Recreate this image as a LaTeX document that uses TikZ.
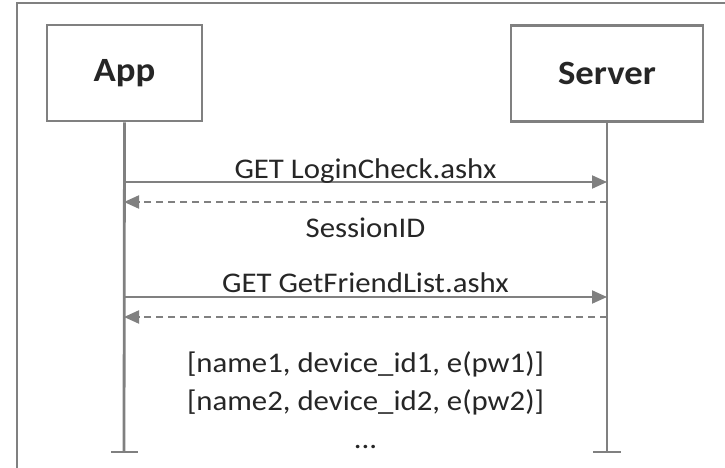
\documentclass[tikz,border=0pt]{standalone}
\usepackage{fontspec}
\setmainfont{Carlito}[FakeStretch=1.08]
\usetikzlibrary{arrows.meta}
\definecolor{linegray}{HTML}{808080}
\definecolor{txt}{HTML}{262626}
\begin{document}
\begin{tikzpicture}[x=1pt,y=-1pt,
  actor/.style={draw=linegray, line width=2.7pt, fill=white, minimum height=96pt, inner sep=0pt, font=\fontsize{34}{40}\selectfont\bfseries, text=txt},
  lifeline/.style={draw=linegray, line width=2.8pt},
  tick/.style={draw=linegray, line width=2.8pt},
  msg/.style={draw=linegray, line width=2pt, -{Triangle[length=15pt,width=13pt]}},
  reply/.style={msg, dash pattern=on 7pt off 5pt},
  lbl/.style={anchor=base, inner sep=0pt, font=\fontsize{28.5}{34}\selectfont, text=txt}]
\useasboundingbox (0,0) rectangle (725,468);
\fill[white] (0,0) rectangle (725,468);
\draw[linegray, line width=2pt] (17,470) -- (17,3) -- (727,3);
\node[actor, minimum width=155pt] (app) at (124.5,73) {App};
\node[actor, minimum width=192pt] (srv) at (607,73.5) {Server};
\coordinate (appEnd) at (124,452);
\coordinate (srvEnd) at (607,452);
\coordinate (appTL) at (111,452);
\coordinate (appTR) at (138,452);
\coordinate (srvTL) at (593,452);
\coordinate (srvTR) at (621,452);
\draw[lifeline] (app.south) -- (appEnd);
\draw[lifeline] (srv.south) -- (srvEnd);
\draw[tick] (appTL) -- (appTR);
\draw[tick] (srvTL) -- (srvTR);
\coordinate (a1) at (124,182); \coordinate (s1) at (607,182);
\coordinate (a2) at (124,202); \coordinate (s2) at (607,202);
\coordinate (a3) at (124,297); \coordinate (s3) at (607,297);
\coordinate (a4) at (124,317); \coordinate (s4) at (607,317);
\draw[msg] (a1) -- (s1);
\draw[reply] (s2) -- (a2);
\draw[msg] (a3) -- (s3);
\draw[reply] (s4) -- (a4);
\node[lbl] (l1) at (365.5,178) {GET LoginCheck.ashx};
\node[lbl] (l2) at (365.5,237) {SessionID};
\node[lbl] (l3) at (365.5,292) {GET GetFriendList.ashx};
\node[lbl] (l4) at (365.5,372) {[name1, device\_id1, e(pw1)]};
\node[lbl] (l5) at (365.5,410) {[name2, device\_id2, e(pw2)]};
\node[lbl] (l6) at (365.5,448) {...};
\end{tikzpicture}
\end{document}
